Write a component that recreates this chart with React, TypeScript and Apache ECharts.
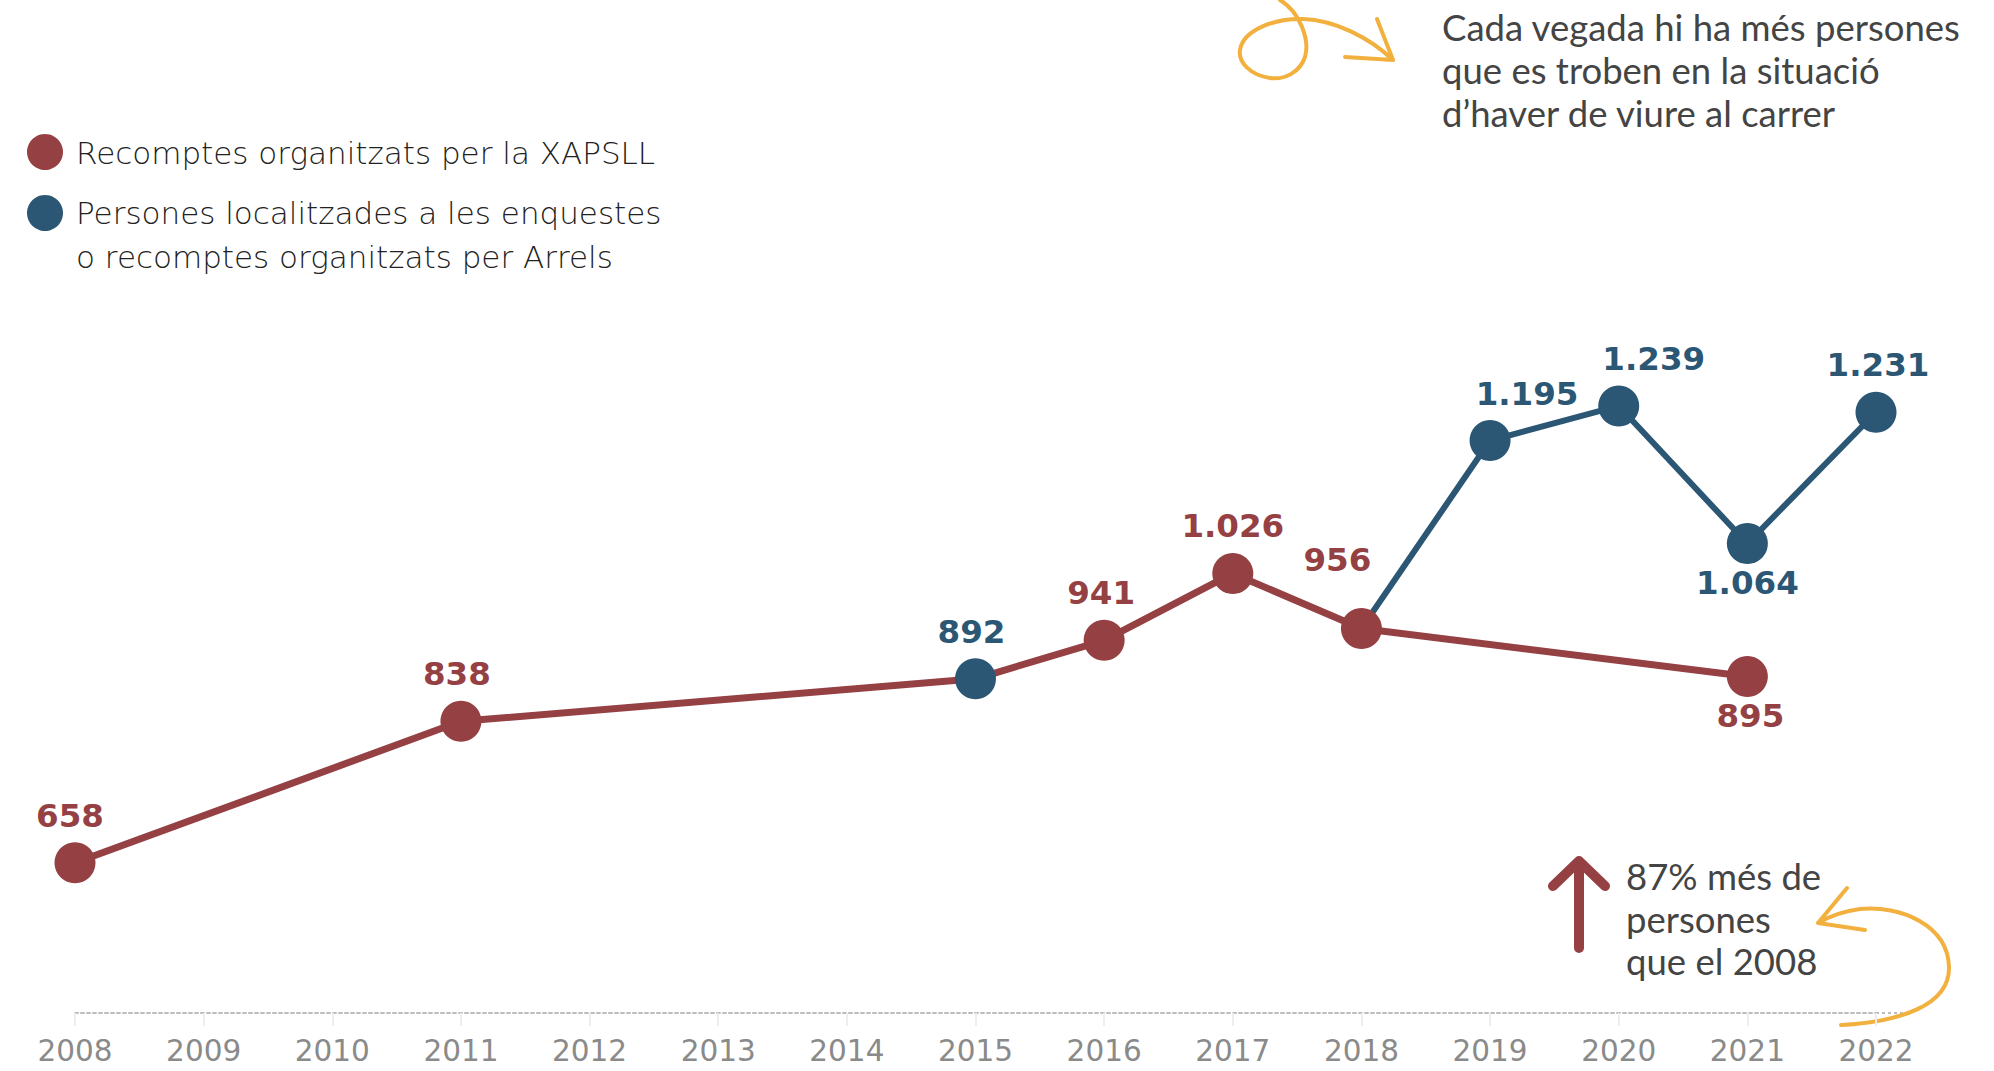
import React, { useEffect, useRef } from "react";
import * as echarts from "echarts";

// ---- data ----
const lineYears = [2008, 2011, 2015, 2016, 2017, 2018, 2021];
const lineValues = [658, 838, 892, 941, 1026, 956, 895];
const arrelsYears = [2018, 2019, 2020, 2021, 2022];
const arrelsValues = [956, 1195, 1239, 1064, 1231];
// points on the XAPSLL line that come from Arrels
const arrelsPointYearsOnLine = [2015];
const xTickYears = [2008, 2009, 2010, 2011, 2012, 2013, 2014, 2015, 2016, 2017, 2018, 2019, 2020, 2021, 2022];

const legendLabels = [
  "Recomptes organitzats per la XAPSLL",
  "Persones localitzades a les enquestes\no recomptes organitzats per Arrels",
];
const noteTop = "Cada vegada hi ha més persones\nque es troben en la situació\nd’haver de viure al carrer";
const noteBottom = "87% més de\npersones\nque el 2008";

const RED = "#954043";
const BLUE = "#2B5775";
const YELLOW = "#F2B13F";

const fmt = (v: number) => {
  const s = String(Math.round(v));
  return s.replace(/\B(?=(\d{3})+(?!\d))/g, ".");
};

// label tweaks
const labelTweaks: Record<string, { pos?: string; off?: number[] }> = {
  "L2008": { off: [-5, 0] },
  "L2011": { off: [-4, 0] },
  "L2015": { off: [-4, 0] },
  "L2016": { off: [-3, 0] },
  "L2018": { off: [-24, -21] },
  "L2021": { pos: "bottom", off: [3, -7] },
  "A2019": { off: [37, 0] },
  "A2020": { off: [35, 0] },
  "A2022": { off: [2, 0] },
  "A2021": { pos: "bottom", off: [0, -8] },
};

let shapesRegistered = false;
function registerShapes() {
  if (shapesRegistered) return;
  shapesRegistered = true;
  echarts.graphic.registerShape(
    "loopArrow",
    echarts.graphic.extendPath(
      "M1280,0 C1300,12 1310,40 1305,57 C1300,72 1285,80 1270,78 C1250,75 1238,62 1240,50 C1243,30 1275,18 1303,19 C1335,20 1370,38 1393,60 M1377,19 L1393,60 L1345,57",
      {}
    )
  );
  echarts.graphic.registerShape(
    "hookArrow",
    echarts.graphic.extendPath(
      "M1841,1025 C1900,1022 1950,1005 1949,967 C1948,925 1900,905 1860,909 C1845,911 1830,916 1818,923 M1847,888 L1818,923 L1865,930",
      {}
    )
  );
  echarts.graphic.registerShape(
    "upArrow",
    echarts.graphic.extendPath("M1579,948 L1579,862 M1553,886 L1579,861 L1605,886", {})
  );
}

function buildLabel(key: string, color: string) {
  const t = labelTweaks[key] || {};
  return {
    show: true,
    position: t.pos || "top",
    distance: 10,
    offset: t.off || [0, 0],
    color,
    fontFamily: "DejaVu Sans",
    fontWeight: "bold",
    fontSize: 32.5,
    formatter: (p: any) => fmt(p.value[1]),
  };
}

export default function App() {
  const ref = useRef<HTMLDivElement>(null);
  useEffect(() => {
    if (!ref.current) return;
    registerShapes();
    const chart = echarts.init(ref.current, undefined, { renderer: "svg" });

    const lineData = lineYears.map((y, i) => {
      const isArrels = arrelsPointYearsOnLine.includes(y);
      const c = isArrels ? BLUE : RED;
      return {
        value: [y, lineValues[i]],
        itemStyle: { color: c },
        label: buildLabel("L" + y, c),
      };
    });
    const arrelsData = arrelsYears.map((y, i) => {
      if (i === 0) {
        return { value: [y, arrelsValues[i]], symbol: "none", label: { show: false } };
      }
      return {
        value: [y, arrelsValues[i]],
        itemStyle: { color: BLUE },
        label: buildLabel("A" + y, BLUE),
      };
    });

    const option: any = {
      animation: false,
      grid: { left: 75, right: 118, top: 358, bottom: 58, containLabel: false },
      xAxis: {
        type: "value",
        min: xTickYears[0],
        max: xTickYears[xTickYears.length - 1],
        interval: 1,
        axisLine: { show: true, lineStyle: { color: "#bdbdbd", type: [3, 3], width: 2 } },
        axisTick: { show: true, length: 13, lineStyle: { color: "#eeeeee", width: 2 } },
        splitLine: { show: false },
        axisLabel: {
          color: "#8a8a8a",
          fontFamily: "DejaVu Sans",
          fontSize: 29.5,
          margin: 23,
          formatter: (v: number) => String(v),
        },
      },
      yAxis: {
        type: "value",
        min: 467,
        max: 1300,
        show: false,
        splitLine: { show: false },
      },
      series: [
        {
          name: legendLabels[1],
          type: "line",
          z: 2,
          data: arrelsData,
          symbol: "circle",
          symbolSize: 41,
          lineStyle: { color: BLUE, width: 6 },
          itemStyle: { color: BLUE },
        },
        {
          name: legendLabels[0],
          type: "line",
          z: 3,
          data: lineData,
          symbol: "circle",
          symbolSize: 41,
          lineStyle: { color: RED, width: 7 },
          itemStyle: { color: RED },
        },
      ],
      graphic: [
        // axis line extension to the right
        {
          type: "line",
          shape: { x1: 1876, y1: 1013, x2: 1906, y2: 1013 },
          style: { stroke: "#bdbdbd", lineWidth: 2, lineDash: [3, 3] },
          silent: true,
        },
        // legend
        { type: "circle", shape: { cx: 45, cy: 152, r: 18 }, style: { fill: RED } },
        { type: "circle", shape: { cx: 45, cy: 213, r: 18 }, style: { fill: BLUE } },
        {
          type: "text",
          x: 76,
          y: 131,
          style: {
            text: legendLabels[0],
            fill: "#222222",
            font: "200 31px 'DejaVu Sans'",
            lineHeight: 44,
          },
        },
        {
          type: "text",
          x: 76,
          y: 191,
          style: {
            text: legendLabels[1],
            fill: "#222222",
            font: "200 31px 'DejaVu Sans'",
            lineHeight: 44,
          },
        },
        // top note
        {
          type: "text",
          x: 1442,
          y: 5,
          style: { text: noteTop, fill: "#444444", font: "36.5px Lato", lineHeight: 43 },
        },
        { type: "loopArrow", x: 0, y: 0, style: { stroke: YELLOW, fill: null, lineWidth: 4, lineCap: "round", lineJoin: "round" } },
        // bottom note
        {
          type: "text",
          x: 1626,
          y: 855,
          style: { text: noteBottom, fill: "#444444", font: "36.5px Lato", lineHeight: 42.5 },
        },
        { type: "upArrow", x: 0, y: 0, style: { stroke: RED, fill: null, lineWidth: 10, lineCap: "round", lineJoin: "round" } },
        { type: "hookArrow", x: 0, y: 0, style: { stroke: YELLOW, fill: null, lineWidth: 4, lineCap: "round", lineJoin: "round" } },
      ],
    };
    chart.setOption(option);
    return () => chart.dispose();
  }, []);
  return (
    <div
      ref={ref}
      style={{ position: "fixed", left: 0, top: 0, width: 1994, height: 1071, background: "#ffffff" }}
    />
  );
}
